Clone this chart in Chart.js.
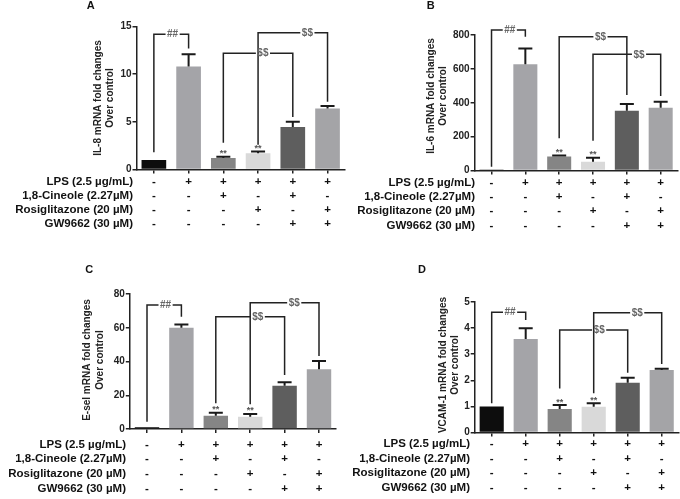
<!DOCTYPE html>
<html>
<head>
<meta charset="utf-8">
<script src="https://cdn.jsdelivr.net/npm/chart.js@4.4.1/dist/chart.umd.min.js"></script>
<style>
  html, body { margin: 0; padding: 0; background: #fff; }
  body { width: 680px; height: 499px; position: relative; overflow: hidden; }
  canvas { position: absolute; }
</style>
</head>
<body>
<canvas id="chartA"></canvas>
<canvas id="chartB"></canvas>
<canvas id="chartC"></canvas>
<canvas id="chartD"></canvas>
<script>
// treatment groups (one bar each)
const groups = ['Control', 'LPS', 'LPS + 1,8-Cineole', 'LPS + Rosiglitazone',
                'LPS + 1,8-Cineole + GW9662', 'LPS + Rosiglitazone + GW9662'];

// treatment table under each panel
const rowLabels = ['LPS (2.5 µg/mL)', '1,8-Cineole (2.27µM)', 'Rosiglitazone (20 µM)', 'GW9662 (30 µM)'];
const lpsRow      = ['-', '+', '+', '+', '+', '+'];
const cineoleRow  = ['-', '-', '+', '-', '+', '-'];
const rosiRow     = ['-', '-', '-', '+', '-', '+'];
const gwRow       = ['-', '-', '-', '-', '+', '+'];

// mean and SEM per panel
const il8Mean  = [1.0, 10.8, 1.2, 1.7, 4.45, 6.4];
const il8Sem   = [0, 1.3, 0.15, 0.2, 0.55, 0.25];
const il6Mean  = [3, 627, 82, 52, 353, 371];
const il6Sem   = [0, 94, 6, 24, 40, 35];
const eselMean = [1, 60, 7.9, 7.3, 25.7, 35.4];
const eselSem  = [0, 2, 1.8, 1.6, 2, 4.9];
const vcamMean = [1.0, 3.58, 0.9, 0.99, 1.91, 2.39];
const vcamSem  = [0, 0.41, 0.15, 0.13, 0.19, 0.05];

// y axis ranges
const il8Max = 15,  il8Step = 5;
const il6Max = 800, il6Step = 200;
const eselMax = 80, eselStep = 20;
const vcamMax = 5,  vcamStep = 1;

// groups marked ** vs LPS
const starGroups = [2, 3];

// significance brackets: from group, to group, level, leg ends (data units)
const il8Brackets = [
  { from: 0, to: 1, level: 14.2, fromEnd: 1.8, toEnd: 12.7, text: '##', pos: 0.54 },
  { from: 3, to: 5, level: 14.35, fromEnd: 2.6, toEnd: 7.1, text: '$$', pos: 0.71 },
  { from: 2, to: 4, level: 12.2, fromEnd: 2.8, toEnd: 5.5, text: '$$', pos: 0.57 }
];
const il6Brackets = [
  { from: 0, to: 1, level: 829, fromEnd: 22, toEnd: 790, text: '##', pos: 0.54 },
  { from: 2, to: 4, level: 790, fromEnd: 190, toEnd: 446, text: '$$', pos: 0.61 },
  { from: 3, to: 5, level: 686, fromEnd: 176, toEnd: 440, text: '$$', pos: 0.68 }
];
const eselBrackets = [
  { from: 0, to: 1, level: 73.5, fromEnd: 4.3, toEnd: 66.5, text: '##', pos: 0.54 },
  { from: 3, to: 5, level: 74.8, fromEnd: 14.6, toEnd: 43.3, text: '$$', pos: 0.64 },
  { from: 2, to: 4, level: 66.5, fromEnd: 15.2, toEnd: 32, text: '$$', pos: 0.61 }
];
const vcamBrackets = [
  { from: 0, to: 1, level: 4.61, fromEnd: 1.12, toEnd: 4.31, text: '##', pos: 0.54 },
  { from: 3, to: 5, level: 4.59, fromEnd: 1.5, toEnd: 2.62, text: '$$', pos: 0.64 },
  { from: 2, to: 4, level: 3.93, fromEnd: 1.69, toEnd: 2.29, text: '$$', pos: 0.58 }
];

const barColors = ['#0d0d0d', '#a4a4a8', '#858585', '#d9d9d9', '#5e5e5e', '#a4a4a7'];
const FONT = '"Liberation Sans", Arial, sans-serif';
const INK = '#222';

const panels = [
  { id: 'chartA', letter: 'A', title: ['IL-8 mRNA fold changes', 'Over control'],
    mean: il8Mean, sem: il8Sem, max: il8Max, step: il8Step, brackets: il8Brackets,
    left: 0, top: 0, w: 350, h: 250, area: { l: 136.5, t: 26.5, r: 344.9, b: 169.5 },
    titleX: [98.7, 110], titleY: 98, letterXY: [90.7, 6.3], labelRight: 133, rowY: 181.7, rowStep: 14.2 },
  { id: 'chartB', letter: 'B', title: ['IL-6 mRNA fold changes', 'Over control'],
    mean: il6Mean, sem: il6Sem, max: il6Max, step: il6Step, brackets: il6Brackets,
    left: 340, top: 0, w: 340, h: 250, area: { l: 134.6, t: 35, r: 337.6, b: 170.5 },
    titleX: [91.7, 103.3], titleY: 96, letterXY: [90.7, 6.3], labelRight: 135, rowY: 182.7, rowStep: 14.3 },
  { id: 'chartC', letter: 'C', title: ['E-sel mRNA fold changes', 'Over control'],
    mean: eselMean, sem: eselSem, max: eselMax, step: eselStep, brackets: eselBrackets,
    left: 0, top: 250, w: 345, h: 249, area: { l: 129.8, t: 44, r: 336.2, b: 179 },
    titleX: [87.5, 100.3], titleY: 110, letterXY: [89.3, 20], labelRight: 126, rowY: 194.5, rowStep: 14.8 },
  { id: 'chartD', letter: 'D', title: ['VCAM-1 mRNA fold changes', 'Over control'],
    mean: vcamMean, sem: vcamSem, max: vcamMax, step: vcamStep, brackets: vcamBrackets,
    left: 340, top: 250, w: 340, h: 249, area: { l: 134.7, t: 52, r: 338.7, b: 182.5 },
    titleX: [103.7, 115], titleY: 115, letterXY: [82, 20], labelRight: 130, rowY: 194.3, rowStep: 14.5 }
];

function makeFigurePlugin(p) {
  return {
    id: 'figure',
    afterDatasetsDraw(chart) {
      const { ctx, scales: { x, y } } = chart;
      ctx.save();
      // error bars (upper only)
      ctx.strokeStyle = '#1a1a1a';
      ctx.lineWidth = 2;
      p.mean.forEach((m, i) => {
        if (!p.sem[i]) return;
        const px = x.getPixelForValue(i);
        const y0 = y.getPixelForValue(m);
        const y1 = y.getPixelForValue(m + p.sem[i]);
        ctx.beginPath();
        ctx.moveTo(px, y0); ctx.lineTo(px, y1);
        ctx.moveTo(px - 7, y1); ctx.lineTo(px + 7, y1);
        ctx.stroke();
      });
      // ** marks
      ctx.fillStyle = '#555';
      ctx.font = 'bold 9px ' + FONT;
      ctx.textAlign = 'center';
      ctx.textBaseline = 'middle';
      starGroups.forEach(i => {
        ctx.fillText('**', x.getPixelForValue(i), y.getPixelForValue(p.mean[i] + p.sem[i]) - 3);
      });
      // brackets
      ctx.strokeStyle = INK;
      ctx.lineWidth = 1.5;
      ctx.font = 'bold 10px ' + FONT;
      p.brackets.forEach(b => {
        const x0 = x.getPixelForValue(b.from), x1 = x.getPixelForValue(b.to);
        const yl = y.getPixelForValue(b.level);
        const tx = x0 + (x1 - x0) * b.pos;
        const half = ctx.measureText(b.text).width / 2 + 1.5;
        ctx.beginPath();
        ctx.moveTo(x0, y.getPixelForValue(b.fromEnd));
        ctx.lineTo(x0, yl);
        ctx.lineTo(tx - half, yl);
        ctx.moveTo(tx + half, yl);
        ctx.lineTo(x1, yl);
        ctx.lineTo(x1, y.getPixelForValue(b.toEnd));
        ctx.stroke();
        ctx.fillStyle = '#666';
        ctx.fillText(b.text, tx, yl + 0.5);
      });
      ctx.restore();
    },
    afterDraw(chart) {
      const { ctx, scales: { x } } = chart;
      ctx.save();
      // treatment table
      ctx.fillStyle = '#111';
      ctx.font = 'bold 11.5px ' + FONT;
      ctx.textBaseline = 'middle';
      [lpsRow, cineoleRow, rosiRow, gwRow].forEach((row, r) => {
        const ry = p.rowY + r * p.rowStep;
        ctx.textAlign = 'right';
        ctx.fillText(rowLabels[r], p.labelRight, ry);
        ctx.textAlign = 'center';
        row.forEach((s, i) => ctx.fillText(s, x.getPixelForValue(i), ry));
      });
      // y axis title
      ctx.fillStyle = INK;
      ctx.font = 'bold 10px ' + FONT;
      p.title.forEach((line, k) => {
        ctx.save();
        ctx.translate(p.titleX[k], p.titleY);
        ctx.rotate(-Math.PI / 2);
        ctx.fillText(line, 0, 0);
        ctx.restore();
      });
      // panel letter
      ctx.font = 'bold 11px ' + FONT;
      ctx.fillStyle = '#111';
      ctx.fillText(p.letter, p.letterXY[0], p.letterXY[1]);
      ctx.restore();
    }
  };
}

panels.forEach(p => {
  const canvas = document.getElementById(p.id);
  canvas.width = p.w;
  canvas.height = p.h;
  canvas.style.left = p.left + 'px';
  canvas.style.top = p.top + 'px';
  canvas.style.width = p.w + 'px';
  canvas.style.height = p.h + 'px';

  const yAxisWidth = 40;
  new Chart(canvas.getContext('2d'), {
    type: 'bar',
    data: {
      labels: groups,
      datasets: [{
        data: p.mean,
        backgroundColor: barColors,
        borderWidth: 0,
        barPercentage: 0.71,
        categoryPercentage: 1
      }]
    },
    options: {
      responsive: false,
      animation: false,
      layout: {
        padding: {
          left: p.area.l - yAxisWidth,
          top: p.area.t,
          right: p.w - p.area.r,
          bottom: p.h - p.area.b
        }
      },
      plugins: {
        legend: { display: false },
        tooltip: { enabled: false }
      },
      scales: {
        x: {
          offset: true,
          ticks: { display: false },
          grid: { drawOnChartArea: false, drawTicks: true, tickLength: 4, offset: false, color: INK, lineWidth: 1.5 },
          border: { display: true, color: INK, width: 1.5 },
          afterFit(s) { s.height = 0; s.paddingLeft = 0; s.paddingRight = 0; }
        },
        y: {
          min: 0,
          max: p.max,
          ticks: { stepSize: p.step, color: INK, padding: 1, font: { family: FONT, size: 10, weight: 'bold' } },
          grid: { drawOnChartArea: false, drawTicks: true, tickLength: 4, color: INK, lineWidth: 1.5 },
          border: { display: true, color: INK, width: 1.5 },
          afterFit(s) { s.width = yAxisWidth; s.paddingTop = 0; s.paddingBottom = 0; }
        }
      }
    },
    plugins: [makeFigurePlugin(p)]
  });
});
</script>
</body>
</html>
